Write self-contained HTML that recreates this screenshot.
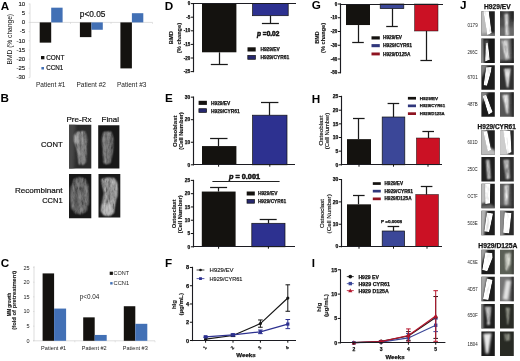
<!DOCTYPE html>
<html><head><meta charset="utf-8"><title>Figure</title>
<style>
html,body{margin:0;padding:0;background:#fff;}
svg{display:block;filter:blur(0.3px);}
text{font-family:"Liberation Sans",sans-serif;}
</style></head>
<body>
<svg width="520" height="361" viewBox="0 0 520 361">
<defs>
<filter id="b1" filterUnits="userSpaceOnUse" x="0" y="0" width="520" height="361"><feGaussianBlur stdDeviation="0.9"/></filter>
<filter id="b2" filterUnits="userSpaceOnUse" x="0" y="0" width="520" height="361"><feGaussianBlur stdDeviation="1.8"/></filter>
<filter id="b4" filterUnits="userSpaceOnUse" x="0" y="0" width="520" height="361"><feGaussianBlur stdDeviation="0.7"/></filter>
<filter id="tx" filterUnits="userSpaceOnUse" x="0" y="0" width="520" height="361">
<feGaussianBlur in="SourceGraphic" stdDeviation="0.9" result="g"/>
<feTurbulence type="fractalNoise" baseFrequency="0.55 0.16" numOctaves="3" seed="7" result="n0"/>
<feColorMatrix in="n0" type="matrix" values="1.1 1.1 1.1 0 -1.15  1.1 1.1 1.1 0 -1.15  1.1 1.1 1.1 0 -1.15  0 0 0 0 1" result="n"/>
<feComposite in="g" in2="n" operator="arithmetic" k1="1.1" k2="0.45" k3="0" k4="0" result="t"/>
<feComposite in="t" in2="g" operator="in"/>
</filter>
<filter id="tx2" filterUnits="userSpaceOnUse" x="0" y="0" width="520" height="361">
<feGaussianBlur in="SourceGraphic" stdDeviation="1.0" result="g"/>
<feTurbulence type="fractalNoise" baseFrequency="0.4 0.14" numOctaves="2" seed="11" result="n0"/>
<feColorMatrix in="n0" type="matrix" values="1 1 1 0 -1  1 1 1 0 -1  1 1 1 0 -1  0 0 0 0 1" result="n"/>
<feComposite in="g" in2="n" operator="arithmetic" k1="0.6" k2="0.7" k3="0" k4="0" result="t"/>
<feComposite in="t" in2="g" operator="in"/>
</filter>
<filter id="tx3" filterUnits="userSpaceOnUse" x="0" y="0" width="520" height="361">
<feGaussianBlur in="SourceGraphic" stdDeviation="0.75" result="g"/>
<feTurbulence type="fractalNoise" baseFrequency="0.3 0.12" numOctaves="2" seed="5" result="n0"/>
<feColorMatrix in="n0" type="matrix" values="1 1 1 0 -1  1 1 1 0 -1  1 1 1 0 -1  0 0 0 0 1" result="n"/>
<feComposite in="g" in2="n" operator="arithmetic" k1="0.5" k2="0.78" k3="0" k4="0" result="t"/>
<feComposite in="t" in2="g" operator="in"/>
</filter>
<filter id="b3" filterUnits="userSpaceOnUse" x="0" y="0" width="520" height="361"><feGaussianBlur stdDeviation="0.5"/></filter>
</defs>
<rect width="520" height="361" fill="#fff"/>
<text x="0.70" y="9.88" font-size="11.7" font-weight="bold">A</text>
<text x="0.60" y="101.88" font-size="11.7" font-weight="bold">B</text>
<text x="0.80" y="267.38" font-size="11.7" font-weight="bold">C</text>
<text x="164.70" y="9.78" font-size="11.7" font-weight="bold">D</text>
<text x="165.10" y="102.38" font-size="11.7" font-weight="bold">E</text>
<text x="165.00" y="267.38" font-size="11.7" font-weight="bold">F</text>
<text x="311.80" y="9.08" font-size="11.7" font-weight="bold">G</text>
<text x="311.80" y="102.58" font-size="11.7" font-weight="bold">H</text>
<text x="311.80" y="267.08" font-size="11.7" font-weight="bold">I</text>
<text x="459.90" y="8.98" font-size="11.7" font-weight="bold">J</text>
<line x1="30.00" y1="3.50" x2="30.00" y2="77.50" stroke="#c8c8c8" stroke-width="0.6"/>
<line x1="30.00" y1="22.40" x2="152.50" y2="22.40" stroke="#c8c8c8" stroke-width="0.6"/>
<line x1="28.60" y1="4.00" x2="30.00" y2="4.00" stroke="#c8c8c8" stroke-width="0.5"/>
<text x="25.20" y="5.76" font-size="6.0" text-anchor="end" fill="#111" stroke="#111" stroke-width="0.12">10</text>
<line x1="28.60" y1="13.20" x2="30.00" y2="13.20" stroke="#c8c8c8" stroke-width="0.5"/>
<text x="25.20" y="14.96" font-size="6.0" text-anchor="end" fill="#111" stroke="#111" stroke-width="0.12">5</text>
<line x1="28.60" y1="22.40" x2="30.00" y2="22.40" stroke="#c8c8c8" stroke-width="0.5"/>
<text x="25.20" y="24.16" font-size="6.0" text-anchor="end" fill="#111" stroke="#111" stroke-width="0.12">0</text>
<line x1="28.60" y1="31.60" x2="30.00" y2="31.60" stroke="#c8c8c8" stroke-width="0.5"/>
<text x="25.20" y="33.36" font-size="6.0" text-anchor="end" fill="#111" stroke="#111" stroke-width="0.12">-5</text>
<line x1="28.60" y1="40.80" x2="30.00" y2="40.80" stroke="#c8c8c8" stroke-width="0.5"/>
<text x="25.20" y="42.56" font-size="6.0" text-anchor="end" fill="#111" stroke="#111" stroke-width="0.12">-10</text>
<line x1="28.60" y1="50.00" x2="30.00" y2="50.00" stroke="#c8c8c8" stroke-width="0.5"/>
<text x="25.20" y="51.76" font-size="6.0" text-anchor="end" fill="#111" stroke="#111" stroke-width="0.12">-15</text>
<line x1="28.60" y1="59.20" x2="30.00" y2="59.20" stroke="#c8c8c8" stroke-width="0.5"/>
<text x="25.20" y="60.96" font-size="6.0" text-anchor="end" fill="#111" stroke="#111" stroke-width="0.12">-20</text>
<line x1="28.60" y1="68.40" x2="30.00" y2="68.40" stroke="#c8c8c8" stroke-width="0.5"/>
<text x="25.20" y="70.16" font-size="6.0" text-anchor="end" fill="#111" stroke="#111" stroke-width="0.12">-25</text>
<line x1="28.60" y1="77.60" x2="30.00" y2="77.60" stroke="#c8c8c8" stroke-width="0.5"/>
<text x="25.20" y="79.36" font-size="6.0" text-anchor="end" fill="#111" stroke="#111" stroke-width="0.12">-30</text>
<line x1="70.50" y1="22.40" x2="70.50" y2="23.90" stroke="#c8c8c8" stroke-width="0.5"/>
<line x1="111.00" y1="22.40" x2="111.00" y2="23.90" stroke="#c8c8c8" stroke-width="0.5"/>
<line x1="152.50" y1="22.40" x2="152.50" y2="23.90" stroke="#c8c8c8" stroke-width="0.5"/>
<text transform="translate(9.30 39.20) rotate(-90)" x="0" y="2.45" font-size="6.8" text-anchor="middle" fill="#111" textLength="50.50" lengthAdjust="spacingAndGlyphs">BMD (% change)</text>
<rect x="39.70" y="22.40" width="11.50" height="20.24" fill="#14120f"/>
<rect x="51.20" y="7.68" width="11.40" height="14.72" fill="#4270b5"/>
<rect x="79.90" y="22.40" width="11.50" height="14.72" fill="#14120f"/>
<rect x="91.40" y="22.40" width="11.40" height="7.36" fill="#4270b5"/>
<rect x="120.40" y="22.40" width="11.50" height="46.00" fill="#14120f"/>
<rect x="131.90" y="13.20" width="11.40" height="9.20" fill="#4270b5"/>
<text x="79.80" y="17.29" font-size="8.3" fill="#111" textLength="25.60" lengthAdjust="spacingAndGlyphs" stroke="#111" stroke-width="0.2">p&lt;0.05</text>
<rect x="41.00" y="56.00" width="3.40" height="3.30" fill="#14120f"/>
<text x="46.20" y="60.00" font-size="6.4" fill="#111" textLength="18.20" lengthAdjust="spacingAndGlyphs" stroke="#111" stroke-width="0.18">CONT</text>
<rect x="41.40" y="67.00" width="2.60" height="2.50" fill="#4270b5"/>
<text x="46.20" y="70.30" font-size="6.4" fill="#111" textLength="17.00" lengthAdjust="spacingAndGlyphs" stroke="#111" stroke-width="0.18">CCN1</text>
<text x="50.70" y="86.67" font-size="6.3" text-anchor="middle" fill="#222" textLength="29.50" lengthAdjust="spacingAndGlyphs">Patient #1</text>
<text x="91.20" y="86.67" font-size="6.3" text-anchor="middle" fill="#222" textLength="29.50" lengthAdjust="spacingAndGlyphs">Patient #2</text>
<text x="131.70" y="86.67" font-size="6.3" text-anchor="middle" fill="#222" textLength="29.50" lengthAdjust="spacingAndGlyphs">Patient #3</text>
<text x="66.40" y="122.22" font-size="8.1" fill="#111" textLength="25.20" lengthAdjust="spacingAndGlyphs" stroke="#111" stroke-width="0.2">Pre-Rx</text>
<text x="101.60" y="122.22" font-size="8.1" fill="#111" textLength="17.40" lengthAdjust="spacingAndGlyphs" stroke="#111" stroke-width="0.2">Final</text>
<text x="62.60" y="146.88" font-size="8.0" text-anchor="end" fill="#111" textLength="21.60" lengthAdjust="spacingAndGlyphs" stroke="#111" stroke-width="0.2">CONT</text>
<text x="62.60" y="192.88" font-size="8.0" text-anchor="end" fill="#111" textLength="47.60" lengthAdjust="spacingAndGlyphs" stroke="#111" stroke-width="0.2">Recombinant</text>
<text x="62.60" y="203.08" font-size="8.0" text-anchor="end" fill="#111" textLength="20.40" lengthAdjust="spacingAndGlyphs" stroke="#111" stroke-width="0.2">CCN1</text>
<clipPath id="c1"><rect x="69.00" y="124.80" width="22.30" height="43.70"/></clipPath>
<g clip-path="url(#c1)"><rect x="68.00" y="123.80" width="24.30" height="45.70" fill="#2b2b2b"/>
<polygon points="66.77,120.43 75.69,120.43 73.91,172.87 66.77,172.87" fill="#474747" filter="url(#b2)"/>
<polygon points="76.72,131.00 85.47,130.57 87.80,138.50 87.51,150.04 86.64,162.73 83.58,165.62 78.47,165.04 77.02,152.92 73.52,141.39 73.81,134.90" fill="#7e7e7e" opacity="0.95" filter="url(#tx)"/>
<polyline points="77.31,133.45 78.47,145.71 79.93,163.02" fill="none" stroke="#d0d0d0" stroke-width="2.0" stroke-linecap="round" opacity="0.5" filter="url(#b1)"/>
<polyline points="82.12,132.44 82.85,147.15 83.58,163.02" fill="none" stroke="#d0d0d0" stroke-width="2.0" stroke-linecap="round" opacity="0.45" filter="url(#b1)"/>
<polyline points="79.93,134.17 80.81,147.15 81.68,163.02" fill="none" stroke="#202020" stroke-width="1.2" stroke-linecap="round" opacity="0.45" filter="url(#b1)"/>
<polyline points="84.60,135.62 84.74,148.60 84.89,162.30" fill="none" stroke="#202020" stroke-width="1.0" stroke-linecap="round" opacity="0.4" filter="url(#b1)"/>
<polygon points="73.81,134.90 77.75,134.17 78.18,142.83 74.39,142.83" fill="#c5c5c5" opacity="0.5" filter="url(#b1)"/>
</g>
<clipPath id="c2"><rect x="98.20" y="125.20" width="21.20" height="43.40"/></clipPath>
<g clip-path="url(#c2)"><rect x="97.20" y="124.20" width="23.20" height="45.40" fill="#181818"/>
<polygon points="103.10,131.28 111.76,130.99 114.06,138.51 113.49,151.53 111.18,163.10 105.99,165.13 102.81,162.52 102.24,150.08 101.08,139.23" fill="#727272" opacity="0.95" filter="url(#tx)"/>
<polyline points="104.55,133.45 104.69,147.19 105.27,163.10" fill="none" stroke="#cfcfcf" stroke-width="2.0" stroke-linecap="round" opacity="0.45" filter="url(#b1)"/>
<polyline points="108.30,132.43 108.58,147.19 108.87,163.10" fill="none" stroke="#cfcfcf" stroke-width="2.0" stroke-linecap="round" opacity="0.45" filter="url(#b1)"/>
<polyline points="106.42,134.17 106.56,147.19 107.00,163.10" fill="none" stroke="#1a1a1a" stroke-width="1.2" stroke-linecap="round" opacity="0.5" filter="url(#b1)"/>
<polyline points="110.60,134.89 110.31,148.64 110.03,162.38" fill="none" stroke="#1a1a1a" stroke-width="1.0" stroke-linecap="round" opacity="0.45" filter="url(#b1)"/>
</g>
<clipPath id="c3"><rect x="69.00" y="174.00" width="22.30" height="44.30"/></clipPath>
<g clip-path="url(#c3)"><rect x="68.00" y="173.00" width="24.30" height="46.30" fill="#181818"/>
<polygon points="71.16,185.83 73.32,178.62 79.07,176.45 85.55,177.90 89.14,185.83 89.29,203.15 86.98,211.81 81.23,214.98 74.75,213.97 71.16,207.48 70.44,195.93" fill="#6a6a6a" opacity="0.95" filter="url(#tx)"/>
<polyline points="71.45,187.28 71.16,198.82 72.60,208.92" fill="none" stroke="#b8b8b8" stroke-width="1.8" stroke-linecap="round" opacity="0.5" filter="url(#b1)"/>
<polyline points="78.35,190.16 79.07,200.26 80.51,210.36" fill="none" stroke="#b0b0b0" stroke-width="2.0" stroke-linecap="round" opacity="0.4" filter="url(#b1)"/>
<polyline points="84.11,182.95 86.98,191.60 86.98,203.15" fill="none" stroke="#a8a8a8" stroke-width="1.8" stroke-linecap="round" opacity="0.4" filter="url(#b1)"/>
<polygon points="74.75,191.60 77.63,191.60 78.35,207.48 75.47,207.48" fill="#3a3a3a" opacity="0.45" filter="url(#b1)"/>
</g>
<clipPath id="c4"><rect x="98.50" y="174.00" width="21.80" height="43.60"/></clipPath>
<g clip-path="url(#c4)"><rect x="97.50" y="173.00" width="23.80" height="45.60" fill="#1a1a1a"/>
<polygon points="100.65,178.62 107.11,176.89 114.99,177.46 118.29,182.95 118.01,194.50 116.00,203.16 114.56,213.27 109.97,216.45 103.52,215.87 100.65,211.10 101.66,201.72 103.52,193.06 101.66,185.84" fill="#9a9a9a" opacity="0.97" filter="url(#tx)"/>
<polygon points="101.66,204.61 111.41,203.45 113.70,211.83 109.97,215.58 103.52,215.00 101.08,211.10" fill="#d2d2d2" opacity="0.55" filter="url(#b1)"/>
<polyline points="112.84,180.79 116.00,187.28 115.71,197.39" fill="none" stroke="#d0d0d0" stroke-width="2.0" stroke-linecap="round" opacity="0.5" filter="url(#b1)"/>
<polyline points="107.11,182.95 108.83,193.06 107.11,201.72" fill="none" stroke="#505050" stroke-width="1.8" stroke-linecap="round" opacity="0.45" filter="url(#b1)"/>
</g>
<line x1="34.00" y1="266.00" x2="34.00" y2="340.80" stroke="#c8c8c8" stroke-width="0.6"/>
<line x1="33.00" y1="340.80" x2="155.00" y2="340.80" stroke="#c8c8c8" stroke-width="0.6"/>
<line x1="33.00" y1="340.80" x2="34.40" y2="340.80" stroke="#c8c8c8" stroke-width="0.5"/>
<text x="29.60" y="342.78" font-size="5.5" text-anchor="end" fill="#222">0</text>
<line x1="33.00" y1="326.15" x2="34.40" y2="326.15" stroke="#c8c8c8" stroke-width="0.5"/>
<text x="29.60" y="328.13" font-size="5.5" text-anchor="end" fill="#222">5</text>
<line x1="33.00" y1="311.50" x2="34.40" y2="311.50" stroke="#c8c8c8" stroke-width="0.5"/>
<text x="29.60" y="313.48" font-size="5.5" text-anchor="end" fill="#222">10</text>
<line x1="33.00" y1="296.85" x2="34.40" y2="296.85" stroke="#c8c8c8" stroke-width="0.5"/>
<text x="29.60" y="298.83" font-size="5.5" text-anchor="end" fill="#222">15</text>
<line x1="33.00" y1="282.20" x2="34.40" y2="282.20" stroke="#c8c8c8" stroke-width="0.5"/>
<text x="29.60" y="284.18" font-size="5.5" text-anchor="end" fill="#222">20</text>
<line x1="33.00" y1="267.55" x2="34.40" y2="267.55" stroke="#c8c8c8" stroke-width="0.5"/>
<text x="29.60" y="269.53" font-size="5.5" text-anchor="end" fill="#222">25</text>
<line x1="74.80" y1="340.80" x2="74.80" y2="342.30" stroke="#c8c8c8" stroke-width="0.5"/>
<line x1="115.20" y1="340.80" x2="115.20" y2="342.30" stroke="#c8c8c8" stroke-width="0.5"/>
<line x1="155.00" y1="340.80" x2="155.00" y2="342.30" stroke="#c8c8c8" stroke-width="0.5"/>
<text transform="translate(8.90 304.60) rotate(-90)" x="0" y="1.76" font-size="4.9" text-anchor="middle" font-weight="bold" fill="#222" textLength="23.40" lengthAdjust="spacingAndGlyphs" stroke="#222" stroke-width="0.1">MM growth</text>
<text transform="translate(14.20 300.20) rotate(-90)" x="0" y="1.80" font-size="5.0" text-anchor="middle" font-weight="bold" fill="#222" textLength="59.00" lengthAdjust="spacingAndGlyphs" stroke="#222" stroke-width="0.1">(fold of pretreatment)</text>
<rect x="42.60" y="273.41" width="11.50" height="67.39" fill="#14120f"/>
<rect x="54.10" y="308.57" width="12.00" height="32.23" fill="#4270b5"/>
<rect x="83.20" y="317.36" width="11.50" height="23.44" fill="#14120f"/>
<rect x="94.70" y="334.94" width="12.00" height="5.86" fill="#4270b5"/>
<rect x="123.80" y="306.23" width="11.50" height="34.57" fill="#14120f"/>
<rect x="135.30" y="323.81" width="12.00" height="16.99" fill="#4270b5"/>
<text x="79.70" y="299.27" font-size="6.3" fill="#222" textLength="19.70" lengthAdjust="spacingAndGlyphs">p&lt;0.04</text>
<rect x="109.70" y="271.70" width="3.20" height="3.20" fill="#14120f"/>
<text x="113.60" y="275.24" font-size="5.4" fill="#222" textLength="15.60" lengthAdjust="spacingAndGlyphs">CONT</text>
<rect x="110.20" y="282.10" width="2.40" height="2.40" fill="#4270b5"/>
<text x="113.60" y="285.24" font-size="5.4" fill="#222" textLength="15.60" lengthAdjust="spacingAndGlyphs">CCN1</text>
<text x="53.60" y="349.72" font-size="5.6" text-anchor="middle" fill="#222" textLength="25.00" lengthAdjust="spacingAndGlyphs">Patient #1</text>
<text x="94.20" y="349.72" font-size="5.6" text-anchor="middle" fill="#222" textLength="25.00" lengthAdjust="spacingAndGlyphs">Patient #2</text>
<text x="135.30" y="349.72" font-size="5.6" text-anchor="middle" fill="#222" textLength="25.00" lengthAdjust="spacingAndGlyphs">Patient #3</text>
<rect x="202.00" y="3.60" width="34.40" height="48.69" fill="#14120f"/>
<line x1="219.50" y1="52.29" x2="219.50" y2="64.50" stroke="#1a1a1a" stroke-width="1.25"/>
<line x1="210.80" y1="64.50" x2="227.80" y2="64.50" stroke="#1a1a1a" stroke-width="1.25"/>
<rect x="252.60" y="3.60" width="35.60" height="12.10" fill="#2d3190" stroke="#111" stroke-width="0.7"/>
<line x1="270.50" y1="15.70" x2="270.50" y2="23.50" stroke="#1a1a1a" stroke-width="1.25"/>
<line x1="261.90" y1="23.50" x2="278.90" y2="23.50" stroke="#1a1a1a" stroke-width="1.25"/>
<line x1="193.50" y1="3.00" x2="193.50" y2="72.20" stroke="#1c1c22" stroke-width="1.15"/>
<line x1="192.90" y1="3.50" x2="296.00" y2="3.50" stroke="#1c1c22" stroke-width="1.15"/>
<line x1="190.90" y1="3.60" x2="193.50" y2="3.60" stroke="#111" stroke-width="1.0"/>
<text x="190.20" y="5.22" font-size="4.5" text-anchor="end" font-weight="bold" fill="#111" stroke="#111" stroke-width="0.25">0</text>
<line x1="190.90" y1="17.20" x2="193.50" y2="17.20" stroke="#111" stroke-width="1.0"/>
<text x="190.20" y="18.82" font-size="4.5" text-anchor="end" font-weight="bold" fill="#111" stroke="#111" stroke-width="0.25">-5</text>
<line x1="190.90" y1="30.80" x2="193.50" y2="30.80" stroke="#111" stroke-width="1.0"/>
<text x="190.20" y="32.42" font-size="4.5" text-anchor="end" font-weight="bold" fill="#111" stroke="#111" stroke-width="0.25">-10</text>
<line x1="190.90" y1="44.40" x2="193.50" y2="44.40" stroke="#111" stroke-width="1.0"/>
<text x="190.20" y="46.02" font-size="4.5" text-anchor="end" font-weight="bold" fill="#111" stroke="#111" stroke-width="0.25">-15</text>
<line x1="190.90" y1="58.00" x2="193.50" y2="58.00" stroke="#111" stroke-width="1.0"/>
<text x="190.20" y="59.62" font-size="4.5" text-anchor="end" font-weight="bold" fill="#111" stroke="#111" stroke-width="0.25">-20</text>
<line x1="190.90" y1="71.60" x2="193.50" y2="71.60" stroke="#111" stroke-width="1.0"/>
<text x="190.20" y="73.22" font-size="4.5" text-anchor="end" font-weight="bold" fill="#111" stroke="#111" stroke-width="0.25">-25</text>
<text transform="translate(171.20 37.60) rotate(-90)" x="0" y="1.87" font-size="5.2" text-anchor="middle" font-weight="bold" fill="#111" textLength="13.20" lengthAdjust="spacingAndGlyphs" stroke="#111" stroke-width="0.1">BMD</text>
<text transform="translate(179.40 38.00) rotate(-90)" x="0" y="1.87" font-size="5.2" text-anchor="middle" font-weight="bold" fill="#111" textLength="30.00" lengthAdjust="spacingAndGlyphs" stroke="#111" stroke-width="0.1">(% change)</text>
<text x="257.00" y="35.79" font-size="7.2" font-weight="bold" fill="#111" textLength="22.40" lengthAdjust="spacingAndGlyphs" stroke="#111" stroke-width="0.55"><tspan font-style="italic">p</tspan> =0.02</text>
<rect x="247.50" y="47.30" width="8.20" height="4.20" fill="#14120f"/>
<text x="260.40" y="51.41" font-size="5.3" font-weight="bold" fill="#111" textLength="19.40" lengthAdjust="spacingAndGlyphs" stroke="#111" stroke-width="0.25">H929/EV</text>
<rect x="247.80" y="55.40" width="7.60" height="3.90" fill="#26276e" stroke="#111" stroke-width="0.7"/>
<text x="260.40" y="59.41" font-size="5.3" font-weight="bold" fill="#111" textLength="28.80" lengthAdjust="spacingAndGlyphs" stroke="#111" stroke-width="0.25">H929/CYR61</text>
<rect x="202.00" y="146.08" width="34.40" height="18.72" fill="#14120f"/>
<line x1="218.50" y1="146.08" x2="218.50" y2="138.50" stroke="#1a1a1a" stroke-width="1.25"/>
<line x1="210.10" y1="138.50" x2="227.50" y2="138.50" stroke="#1a1a1a" stroke-width="1.25"/>
<rect x="252.60" y="115.20" width="34.40" height="49.60" fill="#2d3190" stroke="#111" stroke-width="0.7"/>
<line x1="269.50" y1="115.20" x2="269.50" y2="102.50" stroke="#1a1a1a" stroke-width="1.25"/>
<line x1="261.00" y1="102.50" x2="278.40" y2="102.50" stroke="#1a1a1a" stroke-width="1.25"/>
<line x1="193.50" y1="96.50" x2="193.50" y2="165.40" stroke="#1c1c22" stroke-width="1.15"/>
<line x1="192.90" y1="164.50" x2="295.00" y2="164.50" stroke="#1c1c22" stroke-width="1.15"/>
<line x1="190.90" y1="164.80" x2="193.50" y2="164.80" stroke="#111" stroke-width="1.0"/>
<text x="190.20" y="166.53" font-size="4.8" text-anchor="end" font-weight="bold" fill="#111" stroke="#111" stroke-width="0.25">0</text>
<line x1="190.90" y1="142.25" x2="193.50" y2="142.25" stroke="#111" stroke-width="1.0"/>
<text x="190.20" y="143.98" font-size="4.8" text-anchor="end" font-weight="bold" fill="#111" stroke="#111" stroke-width="0.25">10</text>
<line x1="190.90" y1="119.70" x2="193.50" y2="119.70" stroke="#111" stroke-width="1.0"/>
<text x="190.20" y="121.43" font-size="4.8" text-anchor="end" font-weight="bold" fill="#111" stroke="#111" stroke-width="0.25">20</text>
<line x1="190.90" y1="97.15" x2="193.50" y2="97.15" stroke="#111" stroke-width="1.0"/>
<text x="190.20" y="98.88" font-size="4.8" text-anchor="end" font-weight="bold" fill="#111" stroke="#111" stroke-width="0.25">30</text>
<line x1="218.60" y1="164.50" x2="218.60" y2="166.70" stroke="#111" stroke-width="1.0"/>
<line x1="269.80" y1="164.50" x2="269.80" y2="166.70" stroke="#111" stroke-width="1.0"/>
<text transform="translate(174.80 131.20) rotate(-90)" x="0" y="1.87" font-size="5.2" text-anchor="middle" font-weight="bold" fill="#111" textLength="31.50" lengthAdjust="spacingAndGlyphs" stroke="#111" stroke-width="0.1">Osteoblast</text>
<text transform="translate(181.20 131.00) rotate(-90)" x="0" y="1.80" font-size="5.0" text-anchor="middle" font-weight="bold" fill="#111" textLength="37.50" lengthAdjust="spacingAndGlyphs" stroke="#111" stroke-width="0.1">(Cell Number)</text>
<rect x="198.60" y="100.80" width="8.30" height="4.10" fill="#14120f"/>
<text x="211.00" y="104.81" font-size="5.3" font-weight="bold" fill="#111" textLength="19.30" lengthAdjust="spacingAndGlyphs" stroke="#111" stroke-width="0.25">H929/EV</text>
<rect x="198.90" y="108.70" width="7.70" height="3.70" fill="#26276e" stroke="#111" stroke-width="0.7"/>
<text x="211.00" y="112.61" font-size="5.3" font-weight="bold" fill="#111" textLength="28.70" lengthAdjust="spacingAndGlyphs" stroke="#111" stroke-width="0.25">H929/CYR61</text>
<rect x="201.80" y="191.56" width="33.80" height="55.24" fill="#14120f"/>
<line x1="218.50" y1="191.56" x2="218.50" y2="187.50" stroke="#1a1a1a" stroke-width="1.25"/>
<line x1="210.10" y1="187.50" x2="227.10" y2="187.50" stroke="#1a1a1a" stroke-width="1.25"/>
<rect x="251.80" y="223.30" width="33.20" height="23.50" fill="#2d3190" stroke="#111" stroke-width="0.7"/>
<line x1="268.50" y1="223.30" x2="268.50" y2="219.50" stroke="#1a1a1a" stroke-width="1.25"/>
<line x1="259.70" y1="219.50" x2="276.70" y2="219.50" stroke="#1a1a1a" stroke-width="1.25"/>
<line x1="193.50" y1="179.80" x2="193.50" y2="247.40" stroke="#1c1c22" stroke-width="1.15"/>
<line x1="192.90" y1="246.50" x2="295.00" y2="246.50" stroke="#1c1c22" stroke-width="1.15"/>
<line x1="190.90" y1="246.80" x2="193.50" y2="246.80" stroke="#111" stroke-width="1.0"/>
<text x="190.20" y="248.53" font-size="4.8" text-anchor="end" font-weight="bold" fill="#111" stroke="#111" stroke-width="0.25">0</text>
<line x1="190.90" y1="233.52" x2="193.50" y2="233.52" stroke="#111" stroke-width="1.0"/>
<text x="190.20" y="235.25" font-size="4.8" text-anchor="end" font-weight="bold" fill="#111" stroke="#111" stroke-width="0.25">5</text>
<line x1="190.90" y1="220.24" x2="193.50" y2="220.24" stroke="#111" stroke-width="1.0"/>
<text x="190.20" y="221.97" font-size="4.8" text-anchor="end" font-weight="bold" fill="#111" stroke="#111" stroke-width="0.25">10</text>
<line x1="190.90" y1="206.96" x2="193.50" y2="206.96" stroke="#111" stroke-width="1.0"/>
<text x="190.20" y="208.69" font-size="4.8" text-anchor="end" font-weight="bold" fill="#111" stroke="#111" stroke-width="0.25">15</text>
<line x1="190.90" y1="193.68" x2="193.50" y2="193.68" stroke="#111" stroke-width="1.0"/>
<text x="190.20" y="195.41" font-size="4.8" text-anchor="end" font-weight="bold" fill="#111" stroke="#111" stroke-width="0.25">20</text>
<line x1="190.90" y1="180.40" x2="193.50" y2="180.40" stroke="#111" stroke-width="1.0"/>
<text x="190.20" y="182.13" font-size="4.8" text-anchor="end" font-weight="bold" fill="#111" stroke="#111" stroke-width="0.25">25</text>
<line x1="218.60" y1="246.50" x2="218.60" y2="248.70" stroke="#111" stroke-width="1.0"/>
<line x1="268.40" y1="246.50" x2="268.40" y2="248.70" stroke="#111" stroke-width="1.0"/>
<text transform="translate(174.40 213.80) rotate(-90)" x="0" y="1.80" font-size="5.0" text-anchor="middle" font-weight="bold" fill="#111" textLength="28.80" lengthAdjust="spacingAndGlyphs" stroke="#111" stroke-width="0.1">Osteoclast</text>
<text transform="translate(180.60 214.30) rotate(-90)" x="0" y="1.80" font-size="5.0" text-anchor="middle" font-weight="bold" fill="#111" textLength="38.00" lengthAdjust="spacingAndGlyphs" stroke="#111" stroke-width="0.1">(Cell Number)</text>
<text x="229.00" y="178.72" font-size="7.0" font-weight="bold" fill="#111" textLength="31.00" lengthAdjust="spacingAndGlyphs" stroke="#111" stroke-width="0.5"><tspan font-style="italic">p</tspan> = 0.001</text>
<line x1="212.40" y1="181.50" x2="279.60" y2="181.50" stroke="#222" stroke-width="1.1"/>
<rect x="246.70" y="191.50" width="8.10" height="4.00" fill="#14120f"/>
<text x="257.90" y="195.41" font-size="5.3" font-weight="bold" fill="#111" textLength="19.50" lengthAdjust="spacingAndGlyphs" stroke="#111" stroke-width="0.25">H929/EV</text>
<rect x="247.00" y="199.50" width="7.50" height="3.70" fill="#26276e" stroke="#111" stroke-width="0.7"/>
<text x="257.90" y="203.41" font-size="5.3" font-weight="bold" fill="#111" textLength="28.20" lengthAdjust="spacingAndGlyphs" stroke="#111" stroke-width="0.25">H929/CYR61</text>
<polyline points="205.60,339.13 233.00,335.48 260.40,323.61 287.80,298.05" fill="none" stroke="#151515" stroke-width="1.2"/>
<circle cx="205.60" cy="339.13" r="1.6" fill="#151515"/>
<line x1="233.00" y1="334.38" x2="233.00" y2="336.57" stroke="#151515" stroke-width="1.0"/>
<line x1="230.70" y1="334.38" x2="235.30" y2="334.38" stroke="#151515" stroke-width="1.0"/>
<line x1="230.70" y1="336.57" x2="235.30" y2="336.57" stroke="#151515" stroke-width="1.0"/>
<circle cx="233.00" cy="335.48" r="1.6" fill="#151515"/>
<line x1="260.40" y1="319.96" x2="260.40" y2="327.26" stroke="#151515" stroke-width="1.0"/>
<line x1="258.10" y1="319.96" x2="262.70" y2="319.96" stroke="#151515" stroke-width="1.0"/>
<line x1="258.10" y1="327.26" x2="262.70" y2="327.26" stroke="#151515" stroke-width="1.0"/>
<circle cx="260.40" cy="323.61" r="1.6" fill="#151515"/>
<line x1="287.80" y1="284.81" x2="287.80" y2="311.28" stroke="#151515" stroke-width="1.0"/>
<line x1="285.50" y1="284.81" x2="290.10" y2="284.81" stroke="#151515" stroke-width="1.0"/>
<line x1="285.50" y1="311.28" x2="290.10" y2="311.28" stroke="#151515" stroke-width="1.0"/>
<circle cx="287.80" cy="298.05" r="1.6" fill="#151515"/>
<polyline points="205.60,336.85 233.00,334.84 260.40,331.83 287.80,324.07" fill="none" stroke="#2d3190" stroke-width="1.2"/>
<line x1="205.60" y1="336.12" x2="205.60" y2="337.58" stroke="#2d3190" stroke-width="1.0"/>
<line x1="203.30" y1="336.12" x2="207.90" y2="336.12" stroke="#2d3190" stroke-width="1.0"/>
<line x1="203.30" y1="337.58" x2="207.90" y2="337.58" stroke="#2d3190" stroke-width="1.0"/>
<rect x="204.00" y="335.25" width="3.2" height="3.2" fill="#2d3190"/>
<line x1="233.00" y1="333.74" x2="233.00" y2="335.94" stroke="#2d3190" stroke-width="1.0"/>
<line x1="230.70" y1="333.74" x2="235.30" y2="333.74" stroke="#2d3190" stroke-width="1.0"/>
<line x1="230.70" y1="335.94" x2="235.30" y2="335.94" stroke="#2d3190" stroke-width="1.0"/>
<rect x="231.40" y="333.24" width="3.2" height="3.2" fill="#2d3190"/>
<line x1="260.40" y1="330.00" x2="260.40" y2="333.65" stroke="#2d3190" stroke-width="1.0"/>
<line x1="258.10" y1="330.00" x2="262.70" y2="330.00" stroke="#2d3190" stroke-width="1.0"/>
<line x1="258.10" y1="333.65" x2="262.70" y2="333.65" stroke="#2d3190" stroke-width="1.0"/>
<rect x="258.80" y="330.23" width="3.2" height="3.2" fill="#2d3190"/>
<line x1="287.80" y1="319.50" x2="287.80" y2="328.63" stroke="#2d3190" stroke-width="1.0"/>
<line x1="285.50" y1="319.50" x2="290.10" y2="319.50" stroke="#2d3190" stroke-width="1.0"/>
<line x1="285.50" y1="328.63" x2="290.10" y2="328.63" stroke="#2d3190" stroke-width="1.0"/>
<rect x="286.20" y="322.47" width="3.2" height="3.2" fill="#2d3190"/>
<line x1="192.50" y1="266.80" x2="192.50" y2="341.10" stroke="#1c1c22" stroke-width="1.1"/>
<line x1="191.90" y1="340.50" x2="296.00" y2="340.50" stroke="#1c1c22" stroke-width="1.1"/>
<line x1="189.90" y1="340.50" x2="192.50" y2="340.50" stroke="#111" stroke-width="1.0"/>
<text x="189.20" y="342.52" font-size="5.6" text-anchor="end" font-weight="bold" fill="#111" stroke="#111" stroke-width="0.25">0</text>
<line x1="189.90" y1="322.24" x2="192.50" y2="322.24" stroke="#111" stroke-width="1.0"/>
<text x="189.20" y="324.26" font-size="5.6" text-anchor="end" font-weight="bold" fill="#111" stroke="#111" stroke-width="0.25">2</text>
<line x1="189.90" y1="303.98" x2="192.50" y2="303.98" stroke="#111" stroke-width="1.0"/>
<text x="189.20" y="306.00" font-size="5.6" text-anchor="end" font-weight="bold" fill="#111" stroke="#111" stroke-width="0.25">4</text>
<line x1="189.90" y1="285.72" x2="192.50" y2="285.72" stroke="#111" stroke-width="1.0"/>
<text x="189.20" y="287.74" font-size="5.6" text-anchor="end" font-weight="bold" fill="#111" stroke="#111" stroke-width="0.25">6</text>
<line x1="189.90" y1="267.46" x2="192.50" y2="267.46" stroke="#111" stroke-width="1.0"/>
<text x="189.20" y="269.48" font-size="5.6" text-anchor="end" font-weight="bold" fill="#111" stroke="#111" stroke-width="0.25">8</text>
<line x1="205.60" y1="340.50" x2="205.60" y2="342.70" stroke="#111" stroke-width="1.0"/>
<line x1="233.00" y1="340.50" x2="233.00" y2="342.70" stroke="#111" stroke-width="1.0"/>
<line x1="260.40" y1="340.50" x2="260.40" y2="342.70" stroke="#111" stroke-width="1.0"/>
<line x1="287.80" y1="340.50" x2="287.80" y2="342.70" stroke="#111" stroke-width="1.0"/>
<text x="204.80" y="349.26" font-size="4.6" text-anchor="middle" font-weight="bold" fill="#222" stroke="#222" stroke-width="0.25" transform="rotate(-50 204.80 347.60)">1</text>
<text x="232.20" y="349.26" font-size="4.6" text-anchor="middle" font-weight="bold" fill="#222" stroke="#222" stroke-width="0.25" transform="rotate(-50 232.20 347.60)">2</text>
<text x="259.60" y="349.26" font-size="4.6" text-anchor="middle" font-weight="bold" fill="#222" stroke="#222" stroke-width="0.25" transform="rotate(-50 259.60 347.60)">3</text>
<text x="287.00" y="349.26" font-size="4.6" text-anchor="middle" font-weight="bold" fill="#222" stroke="#222" stroke-width="0.25" transform="rotate(-50 287.00 347.60)">4</text>
<text x="246.00" y="356.93" font-size="6.2" text-anchor="middle" font-weight="bold" fill="#111" textLength="19.40" lengthAdjust="spacingAndGlyphs" stroke="#111" stroke-width="0.25">Weeks</text>
<text transform="translate(173.60 304.60) rotate(-90)" x="0" y="2.16" font-size="6.0" text-anchor="middle" font-weight="bold" fill="#111" stroke="#111" stroke-width="0.1">hIg</text>
<text transform="translate(180.80 304.30) rotate(-90)" x="0" y="2.16" font-size="6.0" text-anchor="middle" font-weight="bold" fill="#111" textLength="22.60" lengthAdjust="spacingAndGlyphs" stroke="#111" stroke-width="0.1">(µg/mL)</text>
<line x1="196.60" y1="270.00" x2="204.40" y2="270.00" stroke="#151515" stroke-width="0.8"/>
<circle cx="200.5" cy="270" r="1.3" fill="#151515"/>
<text x="209.60" y="272.09" font-size="5.8" fill="#222" textLength="24.00" lengthAdjust="spacingAndGlyphs" stroke="#222" stroke-width="0.15">H929/EV</text>
<line x1="196.60" y1="278.60" x2="204.40" y2="278.60" stroke="#2d3190" stroke-width="0.8"/>
<rect x="199.1" y="277.2" width="2.8" height="2.8" fill="#2d3190"/>
<text x="209.60" y="280.69" font-size="5.8" fill="#222" textLength="32.80" lengthAdjust="spacingAndGlyphs" stroke="#222" stroke-width="0.15">H929/CYR61</text>
<rect x="346.00" y="4.00" width="24.00" height="21.04" fill="#14120f"/>
<line x1="358.50" y1="25.04" x2="358.50" y2="42.50" stroke="#1a1a1a" stroke-width="1.25"/>
<line x1="352.20" y1="42.50" x2="363.80" y2="42.50" stroke="#1a1a1a" stroke-width="1.25"/>
<rect x="380.20" y="4.00" width="23.60" height="4.60" fill="#3b4798" stroke="#111" stroke-width="0.7"/>
<line x1="392.50" y1="8.60" x2="392.50" y2="26.50" stroke="#1a1a1a" stroke-width="1.25"/>
<line x1="386.20" y1="26.50" x2="397.80" y2="26.50" stroke="#1a1a1a" stroke-width="1.25"/>
<rect x="414.60" y="4.00" width="23.40" height="27.00" fill="#cb1124" stroke="#111" stroke-width="0.5"/>
<line x1="426.50" y1="31.00" x2="426.50" y2="60.50" stroke="#1a1a1a" stroke-width="1.25"/>
<line x1="420.40" y1="60.50" x2="432.00" y2="60.50" stroke="#1a1a1a" stroke-width="1.25"/>
<line x1="340.50" y1="3.40" x2="340.50" y2="73.35" stroke="#1c1c22" stroke-width="1.15"/>
<line x1="339.90" y1="4.50" x2="443.00" y2="4.50" stroke="#1c1c22" stroke-width="1.15"/>
<line x1="337.90" y1="4.00" x2="340.50" y2="4.00" stroke="#111" stroke-width="1.0"/>
<text x="337.20" y="5.62" font-size="4.5" text-anchor="end" font-weight="bold" fill="#111" stroke="#111" stroke-width="0.25">0</text>
<line x1="337.90" y1="17.75" x2="340.50" y2="17.75" stroke="#111" stroke-width="1.0"/>
<text x="337.20" y="19.37" font-size="4.5" text-anchor="end" font-weight="bold" fill="#111" stroke="#111" stroke-width="0.25">-10</text>
<line x1="337.90" y1="31.50" x2="340.50" y2="31.50" stroke="#111" stroke-width="1.0"/>
<text x="337.20" y="33.12" font-size="4.5" text-anchor="end" font-weight="bold" fill="#111" stroke="#111" stroke-width="0.25">-20</text>
<line x1="337.90" y1="45.25" x2="340.50" y2="45.25" stroke="#111" stroke-width="1.0"/>
<text x="337.20" y="46.87" font-size="4.5" text-anchor="end" font-weight="bold" fill="#111" stroke="#111" stroke-width="0.25">-30</text>
<line x1="337.90" y1="59.00" x2="340.50" y2="59.00" stroke="#111" stroke-width="1.0"/>
<text x="337.20" y="60.62" font-size="4.5" text-anchor="end" font-weight="bold" fill="#111" stroke="#111" stroke-width="0.25">-40</text>
<line x1="337.90" y1="72.75" x2="340.50" y2="72.75" stroke="#111" stroke-width="1.0"/>
<text x="337.20" y="74.37" font-size="4.5" text-anchor="end" font-weight="bold" fill="#111" stroke="#111" stroke-width="0.25">-50</text>
<text transform="translate(316.90 37.40) rotate(-90)" x="0" y="1.80" font-size="5.0" text-anchor="middle" font-weight="bold" fill="#111" textLength="12.00" lengthAdjust="spacingAndGlyphs" stroke="#111" stroke-width="0.1">BMD</text>
<text transform="translate(323.30 37.90) rotate(-90)" x="0" y="1.80" font-size="5.0" text-anchor="middle" font-weight="bold" fill="#111" textLength="30.00" lengthAdjust="spacingAndGlyphs" stroke="#111" stroke-width="0.1">(% change)</text>
<rect x="371.50" y="36.30" width="8.30" height="3.20" fill="#14120f"/>
<text x="383.00" y="39.46" font-size="4.6" font-weight="bold" fill="#111" textLength="19.00" lengthAdjust="spacingAndGlyphs" stroke="#111" stroke-width="0.25">H929/EV</text>
<rect x="371.50" y="44.10" width="8.30" height="3.10" fill="#30377c"/>
<text x="383.00" y="47.21" font-size="4.6" font-weight="bold" fill="#111" textLength="29.00" lengthAdjust="spacingAndGlyphs" stroke="#111" stroke-width="0.25">H929/CYR61</text>
<rect x="371.50" y="52.50" width="8.30" height="2.90" fill="#8e1320"/>
<text x="383.00" y="55.51" font-size="4.6" font-weight="bold" fill="#111" textLength="27.40" lengthAdjust="spacingAndGlyphs" stroke="#111" stroke-width="0.25">H929/D125A</text>
<rect x="347.00" y="139.14" width="24.00" height="25.66" fill="#14120f"/>
<line x1="358.50" y1="139.14" x2="358.50" y2="118.50" stroke="#1a1a1a" stroke-width="1.25"/>
<line x1="353.00" y1="118.50" x2="364.60" y2="118.50" stroke="#1a1a1a" stroke-width="1.25"/>
<rect x="382.20" y="117.00" width="22.60" height="47.80" fill="#3b4798" stroke="#111" stroke-width="0.7"/>
<line x1="393.50" y1="117.00" x2="393.50" y2="103.50" stroke="#1a1a1a" stroke-width="1.25"/>
<line x1="387.60" y1="103.50" x2="399.20" y2="103.50" stroke="#1a1a1a" stroke-width="1.25"/>
<rect x="416.40" y="138.00" width="23.20" height="26.80" fill="#cb1124" stroke="#111" stroke-width="0.5"/>
<line x1="428.50" y1="138.00" x2="428.50" y2="131.50" stroke="#1a1a1a" stroke-width="1.25"/>
<line x1="422.40" y1="131.50" x2="434.00" y2="131.50" stroke="#1a1a1a" stroke-width="1.25"/>
<line x1="341.50" y1="95.80" x2="341.50" y2="165.40" stroke="#1c1c22" stroke-width="1.15"/>
<line x1="340.90" y1="164.50" x2="442.00" y2="164.50" stroke="#1c1c22" stroke-width="1.15"/>
<line x1="338.90" y1="164.80" x2="341.50" y2="164.80" stroke="#111" stroke-width="1.0"/>
<text x="338.20" y="166.60" font-size="5.0" text-anchor="end" font-weight="bold" fill="#111" stroke="#111" stroke-width="0.25">0</text>
<line x1="338.90" y1="151.15" x2="341.50" y2="151.15" stroke="#111" stroke-width="1.0"/>
<text x="338.20" y="152.95" font-size="5.0" text-anchor="end" font-weight="bold" fill="#111" stroke="#111" stroke-width="0.25">5</text>
<line x1="338.90" y1="137.50" x2="341.50" y2="137.50" stroke="#111" stroke-width="1.0"/>
<text x="338.20" y="139.30" font-size="5.0" text-anchor="end" font-weight="bold" fill="#111" stroke="#111" stroke-width="0.25">10</text>
<line x1="338.90" y1="123.85" x2="341.50" y2="123.85" stroke="#111" stroke-width="1.0"/>
<text x="338.20" y="125.65" font-size="5.0" text-anchor="end" font-weight="bold" fill="#111" stroke="#111" stroke-width="0.25">15</text>
<line x1="338.90" y1="110.20" x2="341.50" y2="110.20" stroke="#111" stroke-width="1.0"/>
<text x="338.20" y="112.00" font-size="5.0" text-anchor="end" font-weight="bold" fill="#111" stroke="#111" stroke-width="0.25">20</text>
<line x1="338.90" y1="96.55" x2="341.50" y2="96.55" stroke="#111" stroke-width="1.0"/>
<text x="338.20" y="98.35" font-size="5.0" text-anchor="end" font-weight="bold" fill="#111" stroke="#111" stroke-width="0.25">25</text>
<line x1="359.00" y1="164.50" x2="359.00" y2="166.70" stroke="#111" stroke-width="1.0"/>
<line x1="393.50" y1="164.50" x2="393.50" y2="166.70" stroke="#111" stroke-width="1.0"/>
<line x1="428.00" y1="164.50" x2="428.00" y2="166.70" stroke="#111" stroke-width="1.0"/>
<text transform="translate(321.00 130.50) rotate(-90)" x="0" y="2.02" font-size="5.6" text-anchor="middle" fill="#111" textLength="30.00" lengthAdjust="spacingAndGlyphs" stroke="#111" stroke-width="0.15">Osteoblast</text>
<text transform="translate(327.40 131.00) rotate(-90)" x="0" y="2.02" font-size="5.6" text-anchor="middle" fill="#111" textLength="36.40" lengthAdjust="spacingAndGlyphs" stroke="#111" stroke-width="0.15">(Cell Number)</text>
<rect x="407.90" y="96.90" width="8.10" height="2.70" fill="#14120f"/>
<text x="419.80" y="99.76" font-size="4.2" font-weight="bold" fill="#111" textLength="18.20" lengthAdjust="spacingAndGlyphs" stroke="#111" stroke-width="0.25">H929/EV</text>
<rect x="407.90" y="104.50" width="8.10" height="2.70" fill="#30377c"/>
<text x="419.80" y="107.36" font-size="4.2" font-weight="bold" fill="#111" textLength="25.30" lengthAdjust="spacingAndGlyphs" stroke="#111" stroke-width="0.25">H929/CYR61</text>
<rect x="407.90" y="112.30" width="8.10" height="2.70" fill="#8e1320"/>
<text x="419.80" y="115.16" font-size="4.2" font-weight="bold" fill="#111" textLength="24.90" lengthAdjust="spacingAndGlyphs" stroke="#111" stroke-width="0.25">H929/D125A</text>
<rect x="347.00" y="204.34" width="24.00" height="42.26" fill="#14120f"/>
<line x1="358.50" y1="204.34" x2="358.50" y2="195.50" stroke="#1a1a1a" stroke-width="1.25"/>
<line x1="353.00" y1="195.50" x2="364.60" y2="195.50" stroke="#1a1a1a" stroke-width="1.25"/>
<rect x="382.20" y="231.00" width="22.40" height="15.60" fill="#3b4798" stroke="#111" stroke-width="0.7"/>
<line x1="393.50" y1="231.00" x2="393.50" y2="226.50" stroke="#1a1a1a" stroke-width="1.25"/>
<line x1="387.60" y1="226.50" x2="399.20" y2="226.50" stroke="#1a1a1a" stroke-width="1.25"/>
<rect x="415.80" y="194.50" width="22.60" height="52.10" fill="#cb1124" stroke="#111" stroke-width="0.5"/>
<line x1="426.50" y1="194.50" x2="426.50" y2="186.50" stroke="#1a1a1a" stroke-width="1.25"/>
<line x1="420.80" y1="186.50" x2="432.40" y2="186.50" stroke="#1a1a1a" stroke-width="1.25"/>
<line x1="341.50" y1="179.00" x2="341.50" y2="247.20" stroke="#1c1c22" stroke-width="1.15"/>
<line x1="340.90" y1="246.50" x2="442.00" y2="246.50" stroke="#1c1c22" stroke-width="1.15"/>
<line x1="338.90" y1="246.60" x2="341.50" y2="246.60" stroke="#111" stroke-width="1.0"/>
<text x="338.20" y="248.40" font-size="5.0" text-anchor="end" font-weight="bold" fill="#111" stroke="#111" stroke-width="0.25">0</text>
<line x1="338.90" y1="224.24" x2="341.50" y2="224.24" stroke="#111" stroke-width="1.0"/>
<text x="338.20" y="226.04" font-size="5.0" text-anchor="end" font-weight="bold" fill="#111" stroke="#111" stroke-width="0.25">10</text>
<line x1="338.90" y1="201.88" x2="341.50" y2="201.88" stroke="#111" stroke-width="1.0"/>
<text x="338.20" y="203.68" font-size="5.0" text-anchor="end" font-weight="bold" fill="#111" stroke="#111" stroke-width="0.25">20</text>
<line x1="338.90" y1="179.52" x2="341.50" y2="179.52" stroke="#111" stroke-width="1.0"/>
<text x="338.20" y="181.32" font-size="5.0" text-anchor="end" font-weight="bold" fill="#111" stroke="#111" stroke-width="0.25">30</text>
<line x1="359.00" y1="246.50" x2="359.00" y2="248.70" stroke="#111" stroke-width="1.0"/>
<line x1="393.50" y1="246.50" x2="393.50" y2="248.70" stroke="#111" stroke-width="1.0"/>
<line x1="427.00" y1="246.50" x2="427.00" y2="248.70" stroke="#111" stroke-width="1.0"/>
<text transform="translate(322.40 213.50) rotate(-90)" x="0" y="2.02" font-size="5.6" text-anchor="middle" fill="#111" textLength="29.00" lengthAdjust="spacingAndGlyphs" stroke="#111" stroke-width="0.15">Osteoclast</text>
<text transform="translate(328.70 213.80) rotate(-90)" x="0" y="2.02" font-size="5.6" text-anchor="middle" fill="#111" textLength="39.20" lengthAdjust="spacingAndGlyphs" stroke="#111" stroke-width="0.15">(Cell Number)</text>
<text x="381.00" y="223.44" font-size="4.0" font-weight="bold" fill="#111" textLength="21.00" lengthAdjust="spacingAndGlyphs" stroke="#111" stroke-width="0.25">P =0.0008</text>
<rect x="372.80" y="182.20" width="8.00" height="2.70" fill="#14120f"/>
<text x="384.50" y="185.17" font-size="4.5" font-weight="bold" fill="#111" textLength="18.50" lengthAdjust="spacingAndGlyphs" stroke="#111" stroke-width="0.25">H929/EV</text>
<rect x="372.80" y="189.80" width="8.00" height="2.70" fill="#30377c"/>
<text x="384.50" y="192.77" font-size="4.5" font-weight="bold" fill="#111" textLength="28.50" lengthAdjust="spacingAndGlyphs" stroke="#111" stroke-width="0.25">H929/CYR61</text>
<rect x="372.80" y="197.50" width="8.00" height="2.70" fill="#8e1320"/>
<text x="384.50" y="200.47" font-size="4.5" font-weight="bold" fill="#111" textLength="27.00" lengthAdjust="spacingAndGlyphs" stroke="#111" stroke-width="0.25">H929/D125A</text>
<polyline points="353.80,342.70 381.10,341.34 408.40,335.98 435.70,317.48" fill="none" stroke="#2a1418" stroke-width="1.2"/>
<circle cx="353.80" cy="342.70" r="1.9" fill="#2a1418"/>
<line x1="381.10" y1="340.85" x2="381.10" y2="341.83" stroke="#2a1418" stroke-width="1.0"/>
<line x1="378.80" y1="340.85" x2="383.40" y2="340.85" stroke="#2a1418" stroke-width="1.0"/>
<line x1="378.80" y1="341.83" x2="383.40" y2="341.83" stroke="#2a1418" stroke-width="1.0"/>
<circle cx="381.10" cy="341.34" r="1.9" fill="#2a1418"/>
<line x1="408.40" y1="331.60" x2="408.40" y2="340.37" stroke="#2a1418" stroke-width="1.0"/>
<line x1="406.10" y1="331.60" x2="410.70" y2="331.60" stroke="#2a1418" stroke-width="1.0"/>
<line x1="406.10" y1="340.37" x2="410.70" y2="340.37" stroke="#2a1418" stroke-width="1.0"/>
<circle cx="408.40" cy="335.98" r="1.9" fill="#2a1418"/>
<line x1="435.70" y1="296.54" x2="435.70" y2="338.42" stroke="#2a1418" stroke-width="1.0"/>
<line x1="433.40" y1="296.54" x2="438.00" y2="296.54" stroke="#2a1418" stroke-width="1.0"/>
<line x1="433.40" y1="338.42" x2="438.00" y2="338.42" stroke="#2a1418" stroke-width="1.0"/>
<circle cx="435.70" cy="317.48" r="1.9" fill="#2a1418"/>
<polyline points="353.80,342.70 381.10,342.07 408.40,337.93 435.70,325.27" fill="none" stroke="#3b4798" stroke-width="1.2"/>
<rect x="352.10" y="341.00" width="3.4" height="3.4" fill="#3b4798"/>
<line x1="381.10" y1="341.58" x2="381.10" y2="342.56" stroke="#3b4798" stroke-width="1.0"/>
<line x1="378.80" y1="341.58" x2="383.40" y2="341.58" stroke="#3b4798" stroke-width="1.0"/>
<line x1="378.80" y1="342.56" x2="383.40" y2="342.56" stroke="#3b4798" stroke-width="1.0"/>
<rect x="379.40" y="340.37" width="3.4" height="3.4" fill="#3b4798"/>
<line x1="408.40" y1="333.55" x2="408.40" y2="342.31" stroke="#3b4798" stroke-width="1.0"/>
<line x1="406.10" y1="333.55" x2="410.70" y2="333.55" stroke="#3b4798" stroke-width="1.0"/>
<line x1="406.10" y1="342.31" x2="410.70" y2="342.31" stroke="#3b4798" stroke-width="1.0"/>
<rect x="406.70" y="336.23" width="3.4" height="3.4" fill="#3b4798"/>
<line x1="435.70" y1="318.94" x2="435.70" y2="331.60" stroke="#3b4798" stroke-width="1.0"/>
<line x1="433.40" y1="318.94" x2="438.00" y2="318.94" stroke="#3b4798" stroke-width="1.0"/>
<line x1="433.40" y1="331.60" x2="438.00" y2="331.60" stroke="#3b4798" stroke-width="1.0"/>
<rect x="434.00" y="323.57" width="3.4" height="3.4" fill="#3b4798"/>
<polyline points="353.80,342.70 381.10,341.58 408.40,335.50 435.70,316.01" fill="none" stroke="#b5152c" stroke-width="1.2"/>
<path d="M353.80 340.42 L355.89 344.41 L351.71 344.41Z" fill="#b5152c"/>
<line x1="381.10" y1="341.10" x2="381.10" y2="342.07" stroke="#b5152c" stroke-width="1.0"/>
<line x1="378.80" y1="341.10" x2="383.40" y2="341.10" stroke="#b5152c" stroke-width="1.0"/>
<line x1="378.80" y1="342.07" x2="383.40" y2="342.07" stroke="#b5152c" stroke-width="1.0"/>
<path d="M381.10 339.30 L383.19 343.29 L379.01 343.29Z" fill="#b5152c"/>
<line x1="408.40" y1="328.92" x2="408.40" y2="342.07" stroke="#b5152c" stroke-width="1.0"/>
<line x1="406.10" y1="328.92" x2="410.70" y2="328.92" stroke="#b5152c" stroke-width="1.0"/>
<line x1="406.10" y1="342.07" x2="410.70" y2="342.07" stroke="#b5152c" stroke-width="1.0"/>
<path d="M408.40 333.22 L410.49 337.20 L406.31 337.20Z" fill="#b5152c"/>
<line x1="435.70" y1="290.69" x2="435.70" y2="341.34" stroke="#b5152c" stroke-width="1.0"/>
<line x1="433.40" y1="290.69" x2="438.00" y2="290.69" stroke="#b5152c" stroke-width="1.0"/>
<line x1="433.40" y1="341.34" x2="438.00" y2="341.34" stroke="#b5152c" stroke-width="1.0"/>
<path d="M435.70 313.74 L437.79 317.72 L433.61 317.72Z" fill="#b5152c"/>
<line x1="340.50" y1="269.40" x2="340.50" y2="343.40" stroke="#1c1c22" stroke-width="1.1"/>
<line x1="339.90" y1="342.50" x2="445.40" y2="342.50" stroke="#1c1c22" stroke-width="1.1"/>
<line x1="337.90" y1="342.80" x2="340.50" y2="342.80" stroke="#111" stroke-width="1.0"/>
<text x="337.20" y="344.71" font-size="5.3" text-anchor="end" font-weight="bold" fill="#111" stroke="#111" stroke-width="0.25">0</text>
<line x1="337.90" y1="318.45" x2="340.50" y2="318.45" stroke="#111" stroke-width="1.0"/>
<text x="337.20" y="320.36" font-size="5.3" text-anchor="end" font-weight="bold" fill="#111" stroke="#111" stroke-width="0.25">5</text>
<line x1="337.90" y1="294.10" x2="340.50" y2="294.10" stroke="#111" stroke-width="1.0"/>
<text x="337.20" y="296.01" font-size="5.3" text-anchor="end" font-weight="bold" fill="#111" stroke="#111" stroke-width="0.25">10</text>
<line x1="337.90" y1="269.75" x2="340.50" y2="269.75" stroke="#111" stroke-width="1.0"/>
<text x="337.20" y="271.66" font-size="5.3" text-anchor="end" font-weight="bold" fill="#111" stroke="#111" stroke-width="0.25">15</text>
<line x1="353.80" y1="342.50" x2="353.80" y2="344.70" stroke="#111" stroke-width="1.0"/>
<line x1="381.10" y1="342.50" x2="381.10" y2="344.70" stroke="#111" stroke-width="1.0"/>
<line x1="408.40" y1="342.50" x2="408.40" y2="344.70" stroke="#111" stroke-width="1.0"/>
<line x1="435.70" y1="342.50" x2="435.70" y2="344.70" stroke="#111" stroke-width="1.0"/>
<text x="353.80" y="350.70" font-size="5.0" text-anchor="middle" font-weight="bold" fill="#111" stroke="#111" stroke-width="0.25">2</text>
<text x="381.10" y="350.70" font-size="5.0" text-anchor="middle" font-weight="bold" fill="#111" stroke="#111" stroke-width="0.25">3</text>
<text x="408.40" y="350.70" font-size="5.0" text-anchor="middle" font-weight="bold" fill="#111" stroke="#111" stroke-width="0.25">4</text>
<text x="435.70" y="350.70" font-size="5.0" text-anchor="middle" font-weight="bold" fill="#111" stroke="#111" stroke-width="0.25">5</text>
<text x="395.00" y="358.96" font-size="6.0" text-anchor="middle" font-weight="bold" fill="#111" textLength="19.20" lengthAdjust="spacingAndGlyphs" stroke="#111" stroke-width="0.25">Weeks</text>
<text transform="translate(319.20 307.20) rotate(-90)" x="0" y="2.16" font-size="6.0" text-anchor="middle" font-weight="bold" fill="#111" stroke="#111" stroke-width="0.1">hIg</text>
<text transform="translate(326.20 305.60) rotate(-90)" x="0" y="2.16" font-size="6.0" text-anchor="middle" font-weight="bold" fill="#111" textLength="23.00" lengthAdjust="spacingAndGlyphs" stroke="#111" stroke-width="0.1">(µg/mL)</text>
<line x1="346.80" y1="276.60" x2="353.80" y2="276.60" stroke="#151515" stroke-width="0.8"/>
<circle cx="350.3" cy="276.6" r="1.9" fill="#151515"/>
<text x="358.40" y="278.51" font-size="5.3" font-weight="bold" fill="#111" textLength="20.60" lengthAdjust="spacingAndGlyphs" stroke="#111" stroke-width="0.25">H929 EV</text>
<line x1="346.80" y1="283.60" x2="353.80" y2="283.60" stroke="#3b4798" stroke-width="0.8"/>
<rect x="348.6" y="281.90000000000003" width="3.4" height="3.4" fill="#3b4798"/>
<text x="358.40" y="285.51" font-size="5.3" font-weight="bold" fill="#111" textLength="31.60" lengthAdjust="spacingAndGlyphs" stroke="#111" stroke-width="0.25">H929 CYR61</text>
<line x1="346.80" y1="290.60" x2="353.80" y2="290.60" stroke="#b5152c" stroke-width="0.8"/>
<path d="M350.3 288.40000000000003 L352.4 292.20000000000005 L348.2 292.20000000000005Z" fill="#b5152c"/>
<text x="358.40" y="292.51" font-size="5.3" font-weight="bold" fill="#111" textLength="30.40" lengthAdjust="spacingAndGlyphs" stroke="#111" stroke-width="0.25">H929 D125A</text>
<text x="484.00" y="9.38" font-size="6.6" font-weight="bold" fill="#111" textLength="26.60" lengthAdjust="spacingAndGlyphs" stroke="#111" stroke-width="0.25">H929/EV</text>
<text x="477.60" y="128.98" font-size="6.6" font-weight="bold" fill="#111" textLength="38.20" lengthAdjust="spacingAndGlyphs" stroke="#111" stroke-width="0.25">H929/CYR61</text>
<text x="478.30" y="248.18" font-size="6.6" font-weight="bold" fill="#111" textLength="39.20" lengthAdjust="spacingAndGlyphs" stroke="#111" stroke-width="0.25">H929/D125A</text>
<text x="467.50" y="26.51" font-size="5.3" fill="#222" textLength="10.20" lengthAdjust="spacingAndGlyphs">0179</text>
<text x="467.50" y="53.91" font-size="5.3" fill="#222" textLength="10.20" lengthAdjust="spacingAndGlyphs">266C</text>
<text x="467.50" y="78.91" font-size="5.3" fill="#222" textLength="10.20" lengthAdjust="spacingAndGlyphs">6701</text>
<text x="467.50" y="106.31" font-size="5.3" fill="#222" textLength="10.20" lengthAdjust="spacingAndGlyphs">487B</text>
<text x="467.50" y="144.21" font-size="5.3" fill="#222" textLength="10.20" lengthAdjust="spacingAndGlyphs">601D</text>
<text x="467.50" y="171.31" font-size="5.3" fill="#222" textLength="10.20" lengthAdjust="spacingAndGlyphs">250C</text>
<text x="467.50" y="198.11" font-size="5.3" fill="#222" textLength="10.20" lengthAdjust="spacingAndGlyphs">OC7F</text>
<text x="467.50" y="225.01" font-size="5.3" fill="#222" textLength="10.20" lengthAdjust="spacingAndGlyphs">503E</text>
<text x="467.50" y="263.91" font-size="5.3" fill="#222" textLength="10.20" lengthAdjust="spacingAndGlyphs">4C6E</text>
<text x="467.50" y="291.31" font-size="5.3" fill="#222" textLength="10.20" lengthAdjust="spacingAndGlyphs">4D57</text>
<text x="467.50" y="316.51" font-size="5.3" fill="#222" textLength="10.20" lengthAdjust="spacingAndGlyphs">650F</text>
<text x="467.50" y="345.61" font-size="5.3" fill="#222" textLength="10.20" lengthAdjust="spacingAndGlyphs">1B04</text>
<clipPath id="c5"><rect x="481.40" y="11.30" width="13.40" height="24.50"/></clipPath>
<g clip-path="url(#c5)"><rect x="480.40" y="10.30" width="15.40" height="26.50" fill="#1f1f1f"/>
<polygon points="479.84,9.72 486.07,9.72 489.97,38.17 479.84,38.17" fill="#bdbdbd" filter="url(#b1)"/>
<polygon points="480.62,33.43 496.20,32.64 496.20,38.17 480.62,38.17" fill="#8a8a8a" opacity="0.8" filter="url(#b1)"/>
<polygon points="483.27,10.51 488.72,10.51 491.68,33.11 487.32,35.01" fill="#ffffff" filter="url(#tx3)"/>
</g>
<clipPath id="c6"><rect x="500.00" y="11.30" width="13.80" height="24.50"/></clipPath>
<g clip-path="url(#c6)"><rect x="499.00" y="10.30" width="15.80" height="26.50" fill="#4e4e4e"/>
<polygon points="509.51,9.72 515.33,9.72 515.33,22.36 511.04,20.78" fill="#1e1e1e" opacity="0.85" filter="url(#b2)"/>
<polygon points="498.47,9.72 503.07,9.72 502.30,17.62 498.47,17.62" fill="#1e1e1e" opacity="0.6" filter="url(#b2)"/>
<polygon points="499.23,27.11 514.57,27.11 514.57,36.59 499.23,36.59" fill="#7e7e7e" opacity="0.6" filter="url(#b2)"/>
<polygon points="503.99,13.51 508.59,12.88 509.51,36.59 504.91,36.59" fill="#dcdcdc" opacity="0.92" filter="url(#tx2)"/>
</g>
<clipPath id="c7"><rect x="481.40" y="38.50" width="13.40" height="24.50"/></clipPath>
<g clip-path="url(#c7)"><rect x="480.40" y="37.50" width="15.40" height="26.50" fill="#161616"/>
<polygon points="479.84,36.92 482.96,36.92 484.20,65.37 479.84,65.37" fill="#9a9a9a" filter="url(#b1)"/>
<polygon points="485.61,42.93 487.94,42.45 489.81,59.84 485.14,61.42" fill="#f2f2f2" filter="url(#tx3)"/>
<polygon points="484.52,40.08 488.41,40.08 487.63,44.82 485.30,44.82" fill="#777" opacity="0.7" filter="url(#b1)"/>
</g>
<clipPath id="c8"><rect x="500.00" y="38.50" width="13.80" height="24.50"/></clipPath>
<g clip-path="url(#c8)"><rect x="499.00" y="37.50" width="15.80" height="26.50" fill="#757575"/>
<polygon points="510.73,36.92 515.33,36.92 515.33,65.37 511.96,65.37" fill="#1c1c1c" opacity="0.9" filter="url(#b1)"/>
<polygon points="499.23,60.63 514.57,59.84 514.57,65.37 499.23,65.37" fill="#1c1c1c" opacity="0.8" filter="url(#b1)"/>
<polygon points="500.92,40.40 507.97,39.45 509.81,58.73 505.21,60.95" fill="#d8d8d8" opacity="0.95" filter="url(#tx2)"/>
</g>
<clipPath id="c9"><rect x="481.40" y="65.30" width="13.40" height="24.50"/></clipPath>
<g clip-path="url(#c9)"><rect x="480.40" y="64.30" width="15.40" height="26.50" fill="#1d1d1d"/>
<polygon points="479.84,63.72 488.41,63.72 482.18,76.36 479.84,77.95" fill="#8d8d8d" opacity="0.9" filter="url(#b1)"/>
<polygon points="486.07,67.20 491.68,66.88 491.06,71.62 487.01,85.85 483.58,85.22" fill="#f6f6f6" filter="url(#tx3)"/>
</g>
<clipPath id="c10"><rect x="500.00" y="65.30" width="13.80" height="24.50"/></clipPath>
<g clip-path="url(#c10)"><rect x="499.00" y="64.30" width="15.80" height="26.50" fill="#303030"/>
<polygon points="503.37,68.15 511.35,67.67 508.89,88.22 506.44,88.22" fill="#dedede" opacity="0.95" filter="url(#tx2)"/>
</g>
<clipPath id="c11"><rect x="481.40" y="92.20" width="13.40" height="24.50"/></clipPath>
<g clip-path="url(#c11)"><rect x="480.40" y="91.20" width="15.40" height="26.50" fill="#1b1b1b"/>
<polygon points="479.84,90.62 489.19,90.62 481.40,103.26 479.84,104.85" fill="#909090" opacity="0.9" filter="url(#b1)"/>
<polygon points="482.65,95.99 486.07,94.41 492.62,111.96 488.57,114.65" fill="#f4f4f4" filter="url(#tx3)"/>
</g>
<clipPath id="c12"><rect x="500.00" y="92.20" width="13.80" height="24.50"/></clipPath>
<g clip-path="url(#c12)"><rect x="499.00" y="91.20" width="15.80" height="26.50" fill="#555"/>
<polygon points="511.04,90.62 515.33,90.62 515.33,119.07 511.96,119.07" fill="#1c1c1c" opacity="0.85" filter="url(#b1)"/>
<polygon points="501.53,94.57 509.20,94.10 509.20,114.33 506.13,114.33" fill="#e2e2e2" opacity="0.95" filter="url(#tx2)"/>
</g>
<clipPath id="c13"><rect x="481.40" y="130.20" width="13.40" height="24.50"/></clipPath>
<g clip-path="url(#c13)"><rect x="480.40" y="129.20" width="15.40" height="26.50" fill="#1e1e1e"/>
<polygon points="479.84,128.62 485.30,128.62 489.97,147.59 496.98,151.54 496.98,157.07 479.84,157.07" fill="#bcbcbc" filter="url(#b1)"/>
<polygon points="483.27,131.46 487.32,130.99 491.06,149.96 487.63,151.54" fill="#ffffff" filter="url(#tx3)"/>
</g>
<clipPath id="c14"><rect x="500.00" y="130.20" width="13.80" height="24.50"/></clipPath>
<g clip-path="url(#c14)"><rect x="499.00" y="129.20" width="15.80" height="26.50" fill="#2b2b2b"/>
<polygon points="498.47,128.62 506.90,128.62 508.43,157.07 498.47,157.07" fill="#cdcdcd" filter="url(#b1)"/>
<polygon points="503.07,130.20 510.43,130.99 511.50,152.33 506.90,153.91" fill="#ffffff" filter="url(#tx3)"/>
</g>
<clipPath id="c15"><rect x="481.40" y="157.00" width="13.40" height="24.50"/></clipPath>
<g clip-path="url(#c15)"><rect x="480.40" y="156.00" width="15.40" height="26.50" fill="#1f1f1f"/>
<polygon points="485.30,159.37 489.97,158.90 491.53,179.13 486.85,179.92" fill="#c8c8c8" opacity="0.95" filter="url(#tx2)"/>
</g>
<clipPath id="c16"><rect x="500.00" y="157.00" width="13.80" height="24.50"/></clipPath>
<g clip-path="url(#c16)"><rect x="499.00" y="156.00" width="15.80" height="26.50" fill="#303030"/>
<polygon points="502.76,159.37 509.51,158.90 510.43,179.13 505.37,179.92" fill="#bebebe" opacity="0.95" filter="url(#tx2)"/>
<polygon points="505.37,168.06 507.67,168.06 507.67,172.81 505.37,172.81" fill="#444" opacity="0.7" filter="url(#b1)"/>
</g>
<clipPath id="c17"><rect x="481.40" y="183.80" width="13.40" height="24.50"/></clipPath>
<g clip-path="url(#c17)"><rect x="480.40" y="182.80" width="15.40" height="26.50" fill="#1c1c1c"/>
<polygon points="479.84,182.22 486.07,182.22 486.07,202.77 479.84,204.35" fill="#bdbdbd" filter="url(#b1)"/>
<polygon points="480.62,205.14 490.75,204.03 496.20,207.51 496.20,210.67 480.62,210.67" fill="#888" opacity="0.7" filter="url(#b1)"/>
<polygon points="484.83,183.80 490.44,183.80 489.97,203.56 485.30,204.03" fill="#fbfbfb" filter="url(#tx3)"/>
</g>
<clipPath id="c18"><rect x="500.00" y="183.80" width="13.80" height="24.50"/></clipPath>
<g clip-path="url(#c18)"><rect x="499.00" y="182.80" width="15.80" height="26.50" fill="#5e5e5e"/>
<polygon points="510.43,182.22 515.33,182.22 515.33,210.67 511.50,210.67" fill="#222" opacity="0.8" filter="url(#b1)"/>
<polygon points="499.23,205.93 514.57,205.93 514.57,210.67 499.23,210.67" fill="#333" opacity="0.7" filter="url(#b1)"/>
<polygon points="503.83,184.59 509.51,184.59 508.43,205.61 503.83,205.61" fill="#dcdcdc" opacity="0.95" filter="url(#tx2)"/>
</g>
<clipPath id="c19"><rect x="481.40" y="210.70" width="13.40" height="24.50"/></clipPath>
<g clip-path="url(#c19)"><rect x="480.40" y="209.70" width="15.40" height="26.50" fill="#1d1d1d"/>
<polygon points="479.84,209.12 486.85,209.12 483.74,237.57 479.84,237.57" fill="#b2b2b2" filter="url(#b1)"/>
<polygon points="486.85,212.60 493.09,213.55 489.19,232.04 484.20,231.56" fill="#fafafa" filter="url(#tx3)"/>
</g>
<clipPath id="c20"><rect x="500.00" y="210.70" width="13.80" height="24.50"/></clipPath>
<g clip-path="url(#c20)"><rect x="499.00" y="209.70" width="15.80" height="26.50" fill="#2a2a2a"/>
<polygon points="498.47,209.12 505.37,209.12 503.83,237.57 498.47,237.57" fill="#8e8e8e" filter="url(#b1)"/>
<polygon points="504.60,212.28 511.50,213.07 509.20,233.62 503.07,232.83" fill="#ffffff" filter="url(#tx3)"/>
</g>
<clipPath id="c21"><rect x="481.40" y="249.80" width="13.40" height="24.50"/></clipPath>
<g clip-path="url(#c21)"><rect x="480.40" y="248.80" width="15.40" height="26.50" fill="#1c1c1c"/>
<polygon points="479.84,248.22 487.63,248.22 481.40,264.03 479.84,265.61" fill="#a8a8a8" opacity="0.95" filter="url(#b1)"/>
<polygon points="485.30,252.17 492.31,252.96 492.62,257.70 487.32,271.14 482.18,270.03" fill="#fbfbfb" filter="url(#tx3)"/>
</g>
<clipPath id="c22"><rect x="500.00" y="249.80" width="13.80" height="24.50"/></clipPath>
<g clip-path="url(#c22)"><rect x="499.00" y="248.80" width="15.80" height="26.50" fill="#5b6056"/>
<polygon points="511.96,248.22 515.33,248.22 515.33,276.67 512.57,276.67" fill="#2a2c28" opacity="0.8" filter="url(#b1)"/>
<polygon points="504.29,252.96 511.35,252.33 511.19,263.71 507.97,271.61 504.91,270.35" fill="#cfd2c8" opacity="0.92" filter="url(#tx2)"/>
</g>
<clipPath id="c23"><rect x="481.40" y="276.70" width="13.40" height="24.50"/></clipPath>
<g clip-path="url(#c23)"><rect x="480.40" y="275.70" width="15.40" height="26.50" fill="#1d1d1d"/>
<polygon points="479.84,275.12 487.63,275.12 482.18,303.57 479.84,303.57" fill="#a5a5a5" filter="url(#b1)"/>
<polygon points="486.85,278.60 492.62,279.86 488.41,300.09 482.96,299.15" fill="#fcfcfc" filter="url(#tx3)"/>
</g>
<clipPath id="c24"><rect x="500.00" y="276.70" width="13.80" height="24.50"/></clipPath>
<g clip-path="url(#c24)"><rect x="499.00" y="275.70" width="15.80" height="26.50" fill="#757575"/>
<polygon points="511.50,275.12 515.33,275.12 515.33,303.57 510.73,303.57" fill="#222" opacity="0.85" filter="url(#b1)"/>
<polygon points="505.83,280.18 511.04,280.65 507.97,300.09 502.76,299.15" fill="#e2e2e2" filter="url(#b1)"/>
</g>
<clipPath id="c25"><rect x="481.40" y="304.00" width="13.40" height="24.50"/></clipPath>
<g clip-path="url(#c25)"><rect x="480.40" y="303.00" width="15.40" height="26.50" fill="#1f1f1f"/>
<polygon points="479.84,302.42 483.27,302.42 483.27,330.87 479.84,330.87" fill="#999" opacity="0.9" filter="url(#b1)"/>
<polygon points="484.20,305.90 492.00,306.37 489.97,324.86 487.32,324.86" fill="#bebebe" opacity="0.95" filter="url(#tx2)"/>
<polygon points="487.32,322.18 489.50,322.18 489.50,324.86 487.32,324.86" fill="#eee" opacity="0.9" filter="url(#b1)"/>
</g>
<clipPath id="c26"><rect x="500.00" y="304.00" width="13.80" height="24.50"/></clipPath>
<g clip-path="url(#c26)"><rect x="499.00" y="303.00" width="15.80" height="26.50" fill="#292b25"/>
<polygon points="504.91,306.85 510.73,307.16 508.89,325.34 506.75,325.34" fill="#8a8d82" opacity="0.9" filter="url(#tx2)"/>
</g>
<clipPath id="c27"><rect x="481.40" y="331.40" width="13.40" height="24.50"/></clipPath>
<g clip-path="url(#c27)"><rect x="480.40" y="330.40" width="15.40" height="26.50" fill="#1a1a1a"/>
<polygon points="483.27,333.77 491.53,333.30 488.41,353.53 485.76,353.53" fill="#e9e9e9" filter="url(#b1)"/>
</g>
<clipPath id="c28"><rect x="500.00" y="331.40" width="13.80" height="24.50"/></clipPath>
<g clip-path="url(#c28)"><rect x="499.00" y="330.40" width="15.80" height="26.50" fill="#282a24"/>
<polygon points="503.37,332.98 511.04,333.30 510.43,340.88 504.60,341.67" fill="#82857a" opacity="0.9" filter="url(#tx2)"/>
</g>
</svg>
</body></html>
